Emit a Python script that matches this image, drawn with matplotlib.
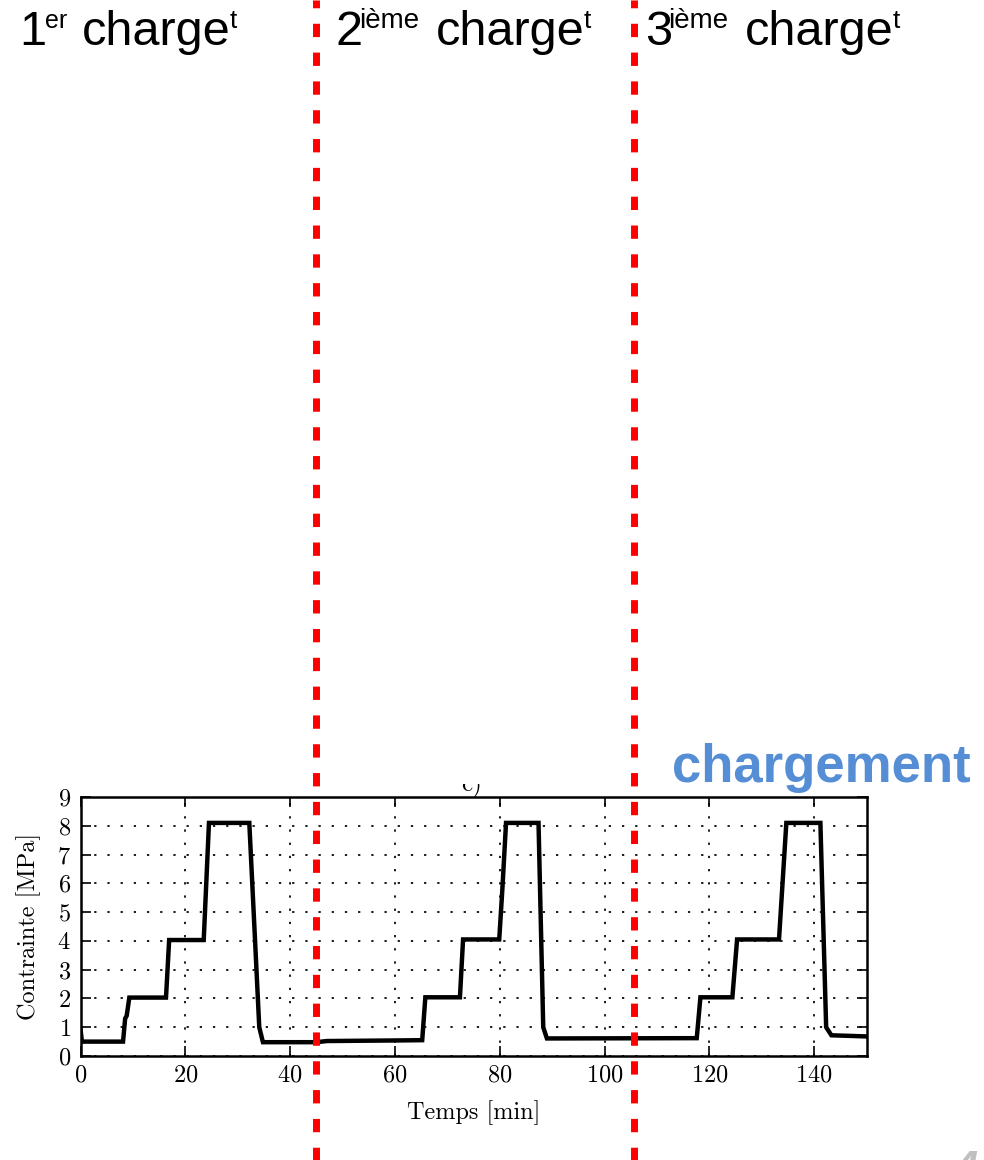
import matplotlib
matplotlib.use("Agg")
import matplotlib.pyplot as plt
from matplotlib.transforms import Bbox

# ---- data ----
time_min = [0, 0.25, 8.1, 8.5, 8.8, 9.3, 16.3, 16.9, 23.5, 24.5, 32.2, 33.3, 34.1, 34.8,
            45, 47, 60, 65.2, 65.8, 72.4, 73.0, 79.9, 80.5, 81.2, 87.4, 88.3, 89.0,
            117.6, 118.3, 124.4, 125.3, 133.3, 134.7, 141.2, 142.3, 143.3, 150]
stress_mpa = [0.9, 0.5, 0.5, 1.3, 1.4, 2.03, 2.03, 4.03, 4.03, 8.1, 8.1, 4.0, 1.0, 0.48,
              0.48, 0.52, 0.54, 0.55, 2.04, 2.04, 4.05, 4.05, 5.8, 8.1, 8.1, 1.0, 0.61,
              0.62, 2.04, 2.04, 4.05, 4.05, 8.1, 8.1, 1.0, 0.72, 0.68]
separators = [45.0, 105.7]
xticks = [0, 20, 40, 60, 80, 100, 120, 140]
yticks = [0, 1, 2, 3, 4, 5, 6, 7, 8, 9]
headers = [("1", "er"), ("2", "ième"), ("3", "ième")]

W, H = 984, 1160
plt.rcParams['font.family'] = 'cmr10'
plt.rcParams['mathtext.fontset'] = 'cm'
plt.rcParams['axes.formatter.use_mathtext'] = True

fig = plt.figure(figsize=(W / 100, H / 100), dpi=100)
ax = fig.add_axes([80.6 / W, 1 - 1056 / H, (866.5 - 80.6) / W, (1056 - 797) / H])

ax.plot(time_min, stress_mpa, color='black', lw=3.2, solid_joinstyle='miter', zorder=3)
ax.set_xlim(0, 150)
ax.set_ylim(0, 9)
ax.set_xticks(xticks)
ax.set_yticks(yticks)
ax.grid(True, color='black', linestyle=(0, (1.3, 6.3)), lw=1.25)
ax.tick_params(direction='in', top=True, right=True, length=7, width=1.2,
               labelsize=17.5)
ax.tick_params(axis='x', pad=6)
ax.tick_params(axis='y', pad=7)
for s in ax.spines.values():
    s.set_linewidth(1.8)
ax.set_xlabel('Temps [min]', fontsize=17.5)
ax.set_ylabel('Contrainte [MPa]', fontsize=17.5)
ax.xaxis.set_label_coords(0.5, -0.17)
ax.yaxis.set_label_coords(-0.051, 0.5)

# red separators spanning the whole slide
xtr = ax.get_xaxis_transform()
for xs in separators:
    ax.plot([xs, xs], [797 / 259 + 1.0, -(H - 1056) / 259 - 0.02], transform=xtr,
            color='#ff0000', lw=5, linestyle=(0.8, (1.92, 2.23)),
            solid_capstyle='butt', clip_on=False, zorder=5)

# slide headers
def ftext(x, y, s, **kw):
    return fig.text(x / W, 1 - y / H, s, va='baseline', ha='left', **kw)

hx = [(19, 45, 82, 229.5), (336, 359, 436, 583.5), (645, 668, 745, 892.5)]
sup_sizes = [18, 20, 20]
for (num, sup), (x0, x1, x2, x3), ss in zip(headers, hx, sup_sizes):
    ftext(x0, 45, num, family='Liberation Sans', fontsize=35)
    ftext(x1, 28, sup, family='Liberation Sans', fontsize=ss)
    ftext(x2, 45, 'charge', family='Liberation Sans', fontsize=35)
    ftext(x3, 28, 't', family='Liberation Sans', fontsize=19)

ftext(672, 782, 'chargement', family='Liberation Sans', fontsize=38,
      fontweight='bold', color='#558ed5')

# partially hidden panel label
t = ftext(461, 790, 'c)', fontsize=18)
t.set_clip_box(Bbox.from_extents(0, 0, W, H - 783.5))
t.set_clip_on(True)

# slide number, cut off at the bottom
ftext(955, 1180, '4', family='Liberation Sans', fontsize=30, fontweight='bold',
      style='italic', color='#bfbfbf')

fig.savefig('out.png', dpi=100)
